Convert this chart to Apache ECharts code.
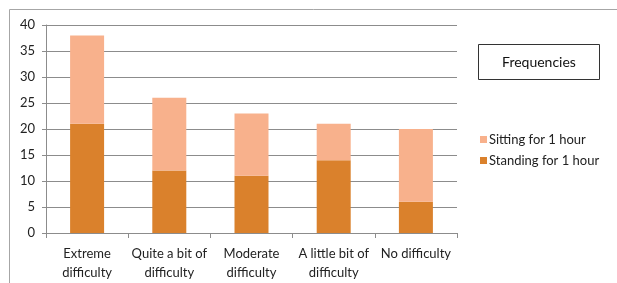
<!DOCTYPE html>
<html>
<head>
<meta charset="utf-8">
<script src="https://cdn.jsdelivr.net/npm/echarts@6/dist/echarts.min.js"></script>
<style>
  html, body { margin: 0; padding: 0; background: #fff; }
  #chart { width: 617px; height: 283px; }
</style>
</head>
<body>
<div id="chart"></div>
<script>
var categories = ['Extreme\ndifficulty', 'Quite a bit of\ndifficulty', 'Moderate\ndifficulty', 'A little bit of\ndifficulty', 'No difficulty']
var standing = [21, 12, 11, 14, 6]
var sitting = [17, 14, 12, 7, 14]
var yTicks = [0, 5, 10, 15, 20, 25, 30, 35, 40]

var chartDom = document.getElementById('chart')
var myChart = echarts.init(chartDom)
var font = 'Lato'
var gray = '#8c8c8c'

var option = {
  animation: false,
  textStyle: { fontFamily: font },
  grid: { left: 46, right: 160, top: 25, bottom: 50 },
  graphic: [
    {
      type: 'rect',
      shape: { x: 9.5, y: 9.5, width: 640, height: 300 },
      style: { fill: 'none', stroke: '#a6a6a6', lineWidth: 1 },
      silent: true
    },
    {
      type: 'rect',
      shape: { x: 478.5, y: 44.5, width: 121, height: 35 },
      style: { fill: '#fff', stroke: '#333', lineWidth: 1 },
      silent: true
    },
    {
      type: 'text',
      x: 539,
      y: 62,
      style: {
        text: 'Frequencies',
        fontFamily: font,
        fontSize: 14,
        fill: '#111',
        align: 'center',
        verticalAlign: 'middle'
      },
      silent: true
    }
  ],
  legend: {
    orient: 'vertical',
    left: 475,
    top: 128,
    itemWidth: 7,
    itemHeight: 7,
    itemGap: 8,
    icon: 'rect',
    data: ['Sitting for 1 hour', 'Standing for 1 hour'],
    textStyle: { fontFamily: font, fontSize: 13, color: '#222', padding: [0, 0, 0, -3] }
  },
  xAxis: {
    type: 'category',
    data: categories,
    axisLine: { lineStyle: { color: gray } },
    axisTick: { show: true, length: 5, lineStyle: { color: gray } },
    axisLabel: {
      interval: 0,
      margin: 11,
      fontSize: 13,
      lineHeight: 19,
      color: '#222',
      fontFamily: font
    }
  },
  yAxis: {
    type: 'value',
    min: yTicks[0],
    max: yTicks[yTicks.length - 1],
    interval: 5,
    axisLine: { show: true, lineStyle: { color: gray } },
    axisTick: { show: true, length: 4, lineStyle: { color: gray } },
    axisLabel: { margin: 11, fontSize: 13, color: '#222', fontFamily: font },
    splitLine: { lineStyle: { color: gray } }
  },
  series: [
    {
      name: 'Standing for 1 hour',
      type: 'bar',
      stack: 'total',
      barWidth: 34,
      data: standing,
      itemStyle: { color: '#da812c' }
    },
    {
      name: 'Sitting for 1 hour',
      type: 'bar',
      stack: 'total',
      barWidth: 34,
      data: sitting,
      itemStyle: { color: '#f8b18c' }
    }
  ]
}

option && myChart.setOption(option)
window.onresize = () => {
  myChart.resize()
}
</script>
</body>
</html>
